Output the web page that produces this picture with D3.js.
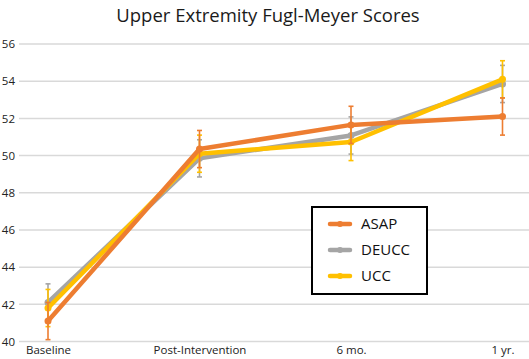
<!DOCTYPE html>
<html>
<head>
<meta charset="utf-8">
<script src="https://cdn.jsdelivr.net/npm/d3@7"></script>
<style>
  body { margin: 0; background: #fff; }
  svg { display: block; font-family: "Open Sans", "Noto Sans", sans-serif; }
</style>
</head>
<body>
<svg id="chart"></svg>
<script>
// Chart data
const categories = ["Baseline", "Post-Intervention", "6 mo.", "1 yr."];
const series_names = ["ASAP", "DEUCC", "UCC"];
const asap_values = [41.1, 50.35, 51.65, 52.1];
const deucc_values = [42.1, 49.85, 51.08, 53.85];
const ucc_values = [41.8, 50.1, 50.73, 54.1];
const error_size = [1.0, 1.0, 1.0, 1.0];
const y_ticks = [40, 42, 44, 46, 48, 50, 52, 54, 56];
const series_colors = { "ASAP": "#ED7D31", "DEUCC": "#A5A5A5", "UCC": "#FFC000" };

const width = 529, height = 359;

const svg = d3.select("#chart")
    .attr("width", width)
    .attr("height", height);

// Scales
const x_scale = d3.scalePoint()
    .domain(categories)
    .range([48, 502.5]);
const y_scale = d3.scaleLinear()
    .domain([40, 56])
    .range([341.5, 44]);

// Title
svg.append("text")
    .attr("x", 268)
    .attr("y", 22)
    .attr("text-anchor", "middle")
    .style("font-size", "18.5px")
    .style("fill", "#1a1a1a")
    .text("Upper Extremity Fugl-Meyer Scores");

// Horizontal gridlines
svg.append("g")
    .selectAll("line")
    .data(y_ticks)
    .join("line")
    .attr("x1", 19)
    .attr("x2", width)
    .attr("y1", d => y_scale(d))
    .attr("y2", d => y_scale(d))
    .style("stroke", "#d9d9d9")
    .style("stroke-width", 1.5);

// Y axis labels
svg.append("g")
    .attr("transform", "translate(15, 0)")
    .call(d3.axisLeft(y_scale).tickValues(y_ticks).tickSize(0).tickPadding(0))
    .call(g => g.select(".domain").remove())
    .selectAll("text")
    .style("font-size", "11.5px")
    .style("font-family", "\"Open Sans\", sans-serif")
    .style("fill", "#222");

// X axis labels
svg.append("g")
    .attr("transform", `translate(0, ${y_scale(40)})`)
    .call(d3.axisBottom(x_scale).tickSize(0).tickPadding(4))
    .call(g => g.select(".domain").remove())
    .selectAll("text")
    .style("font-size", "11.5px")
    .style("font-family", "\"Open Sans\", sans-serif")
    .style("fill", "#222");

// Build the series table
const all_series = [
    { name: "DEUCC", values: deucc_values },
    { name: "UCC", values: ucc_values },
    { name: "ASAP", values: asap_values }
].map(s => ({
    name: s.name,
    points: categories.map((c, i) => ({ cat: c, value: s.values[i], err: error_size[i] }))
}));

const line_gen = d3.line()
    .x(d => x_scale(d.cat))
    .y(d => y_scale(d.value));

const series_g = svg.append("g")
    .selectAll("g")
    .data(all_series)
    .join("g");

// Error bars
series_g.each(function (s) {
    const g = d3.select(this);
    const col = series_colors[s.name];
    const bars = g.selectAll(".err")
        .data(s.points)
        .join("g")
        .attr("class", "err");
    bars.append("line")
        .attr("x1", d => x_scale(d.cat))
        .attr("x2", d => x_scale(d.cat))
        .attr("y1", d => y_scale(Math.min(56, d.value + d.err)))
        .attr("y2", d => y_scale(Math.max(40, d.value - d.err)))
        .style("stroke", col)
        .style("stroke-width", 1.6);
    [1, -1].forEach(sign => {
        bars.append("line")
            .attr("x1", d => x_scale(d.cat) - 2.5)
            .attr("x2", d => x_scale(d.cat) + 2.5)
            .attr("y1", d => y_scale(Math.max(40, Math.min(56, d.value + sign * d.err))))
            .attr("y2", d => y_scale(Math.max(40, Math.min(56, d.value + sign * d.err))))
            .style("stroke", col)
            .style("stroke-width", 1.6);
    });
});

// Lines and markers
series_g.append("path")
    .attr("d", s => line_gen(s.points))
    .style("fill", "none")
    .style("stroke", s => series_colors[s.name])
    .style("stroke-width", 4.5)
    .style("stroke-linejoin", "round");

series_g.each(function (s) {
    d3.select(this).selectAll("circle")
        .data(s.points)
        .join("circle")
        .attr("cx", d => x_scale(d.cat))
        .attr("cy", d => y_scale(d.value))
        .attr("r", 3.5)
        .style("fill", series_colors[s.name]);
});

// Legend
const legend = svg.append("g");
legend.append("rect")
    .attr("x", 312)
    .attr("y", 207)
    .attr("width", 115)
    .attr("height", 87)
    .style("fill", "#fff")
    .style("stroke", "#000")
    .style("stroke-width", 2);

const legend_items = legend.selectAll(".item")
    .data(series_names)
    .join("g")
    .attr("class", "item")
    .attr("transform", (d, i) => `translate(0, ${224 + i * 26})`);
legend_items.append("line")
    .attr("x1", 330)
    .attr("x2", 350)
    .style("stroke", d => series_colors[d])
    .style("stroke-width", 4.5)
    .style("stroke-linecap", "round");
legend_items.append("circle")
    .attr("cx", 340)
    .attr("r", 3)
    .style("fill", d => series_colors[d]);
legend_items.append("text")
    .attr("x", 361)
    .attr("dy", "0.36em")
    .style("font-size", "15px")
    .style("fill", "#111")
    .text(d => d);
</script>
</body>
</html>
